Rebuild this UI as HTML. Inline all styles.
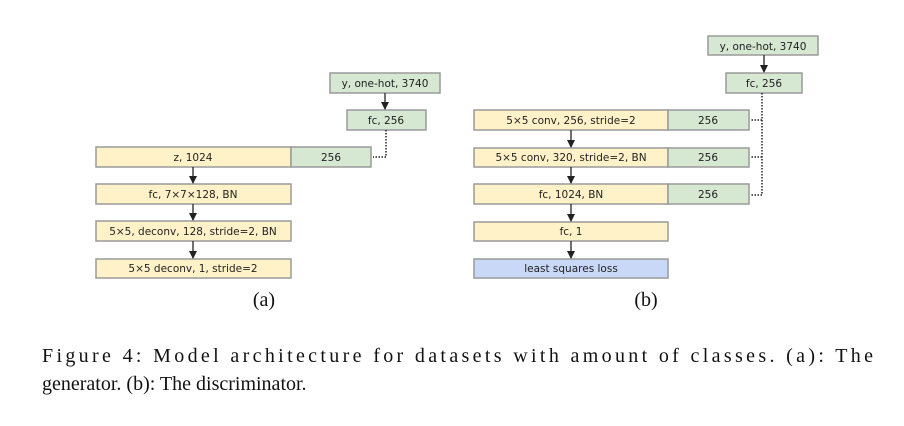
<!DOCTYPE html>
<html><head><meta charset="utf-8"><style>
html,body{margin:0;padding:0;background:#fff;width:904px;height:426px;overflow:hidden}
svg{display:block}
.b{font-family:"DejaVu Sans","Liberation Sans",sans-serif;font-size:10.5px;fill:#222;text-anchor:middle}
.cap{font-family:"Liberation Serif",serif;font-size:20px;fill:#111}
</style></head><body>
<svg width="904" height="426" viewBox="0 0 904 426" xmlns="http://www.w3.org/2000/svg">
<defs><marker id="ar" markerWidth="8" markerHeight="8" refX="7" refY="4" orient="auto" markerUnits="userSpaceOnUse"><path d="M0,0 L8,4 L0,8 z" fill="#222"/></marker></defs>
<g stroke="#9a9a9a" stroke-width="1.5">
<!-- (a) -->
<rect x="330" y="73" width="110" height="20" fill="#d6e8d2"/>
<rect x="347" y="110" width="79" height="20" fill="#d6e8d2"/>
<rect x="96" y="147" width="195" height="20" fill="#fff1c8"/>
<rect x="291" y="147" width="80" height="20" fill="#d6e8d2"/>
<rect x="96" y="184" width="195" height="20" fill="#fff1c8"/>
<rect x="96" y="221" width="195" height="20" fill="#fff1c8"/>
<rect x="96" y="259" width="195" height="19" fill="#fff1c8"/>
<!-- (b) -->
<rect x="708" y="36" width="110" height="19" fill="#d6e8d2"/>
<rect x="726" y="73" width="76" height="20" fill="#d6e8d2"/>
<rect x="474" y="110" width="194" height="20" fill="#fff1c8"/>
<rect x="668" y="110" width="81" height="20" fill="#d6e8d2"/>
<rect x="474" y="148" width="194" height="19" fill="#fff1c8"/>
<rect x="668" y="148" width="81" height="19" fill="#d6e8d2"/>
<rect x="474" y="184" width="194" height="20" fill="#fff1c8"/>
<rect x="668" y="184" width="81" height="20" fill="#d6e8d2"/>
<rect x="474" y="222" width="194" height="19" fill="#fff1c8"/>
<rect x="474" y="259" width="194" height="19" fill="#c8d8f6"/>
</g>
<g stroke="#222" stroke-width="1.3" fill="none">
<line x1="385" y1="93" x2="385" y2="109" marker-end="url(#ar)"/>
<line x1="193" y1="167" x2="193" y2="183" marker-end="url(#ar)"/>
<line x1="193" y1="204" x2="193" y2="220" marker-end="url(#ar)"/>
<line x1="193" y1="241" x2="193" y2="258" marker-end="url(#ar)"/>
<line x1="764" y1="55" x2="764" y2="72" marker-end="url(#ar)"/>
<line x1="571" y1="130" x2="571" y2="147" marker-end="url(#ar)"/>
<line x1="571" y1="167" x2="571" y2="183" marker-end="url(#ar)"/>
<line x1="571" y1="204" x2="571" y2="221" marker-end="url(#ar)"/>
<line x1="571" y1="241" x2="571" y2="258" marker-end="url(#ar)"/>
</g>
<g stroke="#222" stroke-width="1.5" fill="none" stroke-dasharray="1.5,1.5">
<path d="M386 130 V157 H373"/>
<path d="M762 93 V195 H751"/>
<path d="M762 120 H751"/>
<path d="M762 157 H751"/>
</g>
<text class="b" x="385" y="87">y, one-hot, 3740</text>
<text class="b" x="386" y="124">fc, 256</text>
<text class="b" x="193" y="161">z, 1024</text>
<text class="b" x="331" y="161">256</text>
<text class="b" x="193" y="198">fc, 7×7×128, BN</text>
<text class="b" x="193" y="235">5×5, deconv, 128, stride=2, BN</text>
<text class="b" x="193" y="272">5×5 deconv, 1, stride=2</text>
<text class="b" x="763" y="50">y, one-hot, 3740</text>
<text class="b" x="764" y="87">fc, 256</text>
<text class="b" x="571" y="124">5×5 conv, 256, stride=2</text>
<text class="b" x="708" y="124">256</text>
<text class="b" x="571" y="161">5×5 conv, 320, stride=2, BN</text>
<text class="b" x="708" y="161">256</text>
<text class="b" x="571" y="198">fc, 1024, BN</text>
<text class="b" x="708" y="198">256</text>
<text class="b" x="571" y="235">fc, 1</text>
<text class="b" x="571" y="272">least squares loss</text>
<text class="cap" x="264" y="306" text-anchor="middle">(a)</text>
<text class="cap" x="646" y="306" text-anchor="middle">(b)</text>
<text class="cap" x="42" y="362" textLength="831" lengthAdjust="spacing">Figure 4:  Model architecture for datasets with amount of classes.  (a):  The</text>
<text class="cap" x="42" y="390">generator. (b): The discriminator.</text>
</svg>
</body></html>
